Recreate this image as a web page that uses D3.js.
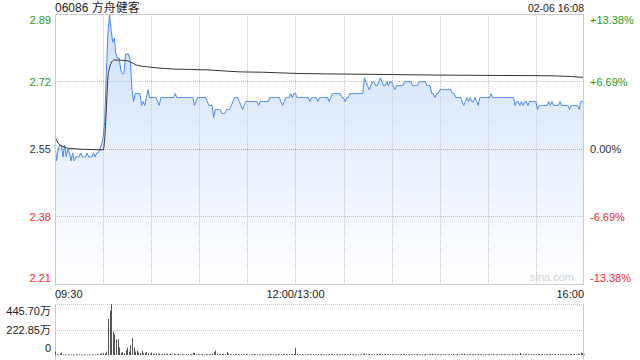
<!DOCTYPE html>
<html><head><meta charset="utf-8">
<script src="https://cdn.jsdelivr.net/npm/d3@7/dist/d3.min.js"></script>
<style>
html,body{margin:0;padding:0;background:#fff;}
text{font-family:"Liberation Sans",Arial,"Noto Sans CJK SC",sans-serif;}
</style></head>
<body>
<svg id="c" width="640" height="360"></svg>
<script>
const title = "06086 方舟健客";
const stamp = "02-06 16:08";
const prevClose = 2.55;
const pctLevels = [0.1338, 0.0669, 0, -0.0669, -0.1338];
const priceLabels = ["2.89", "2.72", "2.55", "2.38", "2.21"];
const pctLabels = ["+13.38%", "+6.69%", "0.00%", "-6.69%", "-13.38%"];
const timeLabels = ["09:30", "12:00/13:00", "16:00"];
const timeLabelMinutes = [0, 150, 330];
const gridMinutes = [30, 60, 90, 120, 150, 180, 210, 240, 270, 300];
const volMax = 445.70;
const volLabels = ["445.70万", "222.85万", "0"];

// minute-by-minute price, 09:30 .. 16:00 (331 points)
const price = [
2.56,2.52,2.55,2.56,2.56,2.53,2.56,2.53,2.55,2.54,
2.52,2.54,2.52,2.53,2.53,2.53,2.54,2.53,2.53,2.53,
2.54,2.53,2.53,2.53,2.54,2.53,2.54,2.54,2.55,2.56,
2.58,2.62,2.74,2.84,2.89,2.85,2.82,2.83,2.79,2.78,
2.78,2.75,2.74,2.74,2.79,2.79,2.79,2.77,2.70,2.67,
2.69,2.69,2.69,2.69,2.66,2.67,2.66,2.68,2.70,2.68,
2.68,2.68,2.68,2.68,2.67,2.66,2.68,2.68,2.68,2.68,
2.68,2.68,2.68,2.68,2.68,2.69,2.68,2.68,2.68,2.68,
2.68,2.68,2.68,2.68,2.68,2.68,2.68,2.66,2.67,2.68,
2.68,2.68,2.68,2.68,2.68,2.67,2.66,2.66,2.66,2.63,
2.65,2.65,2.65,2.65,2.64,2.64,2.64,2.65,2.65,2.65,
2.66,2.67,2.68,2.68,2.68,2.67,2.66,2.65,2.66,2.67,
2.67,2.67,2.67,2.67,2.67,2.67,2.67,2.66,2.67,2.67,
2.67,2.67,2.67,2.67,2.68,2.68,2.68,2.68,2.68,2.68,
2.68,2.67,2.66,2.67,2.68,2.68,2.68,2.69,2.68,2.69,
2.69,2.68,2.68,2.68,2.68,2.68,2.68,2.68,2.68,2.67,
2.68,2.68,2.68,2.68,2.67,2.68,2.68,2.68,2.68,2.68,
2.68,2.67,2.68,2.69,2.69,2.69,2.69,2.69,2.69,2.68,
2.68,2.67,2.68,2.68,2.69,2.69,2.69,2.69,2.69,2.69,
2.69,2.69,2.69,2.73,2.72,2.71,2.70,2.71,2.72,2.72,
2.71,2.71,2.72,2.73,2.72,2.71,2.71,2.72,2.71,2.72,
2.72,2.71,2.70,2.71,2.71,2.71,2.71,2.71,2.72,2.72,
2.72,2.72,2.72,2.71,2.71,2.71,2.71,2.72,2.72,2.72,
2.72,2.72,2.71,2.71,2.71,2.69,2.69,2.68,2.69,2.69,
2.70,2.70,2.70,2.70,2.70,2.70,2.70,2.70,2.69,2.69,
2.68,2.68,2.68,2.68,2.67,2.66,2.67,2.68,2.67,2.68,
2.67,2.67,2.68,2.67,2.66,2.68,2.68,2.68,2.68,2.68,
2.68,2.68,2.69,2.68,2.68,2.68,2.68,2.68,2.68,2.68,
2.68,2.68,2.68,2.68,2.68,2.68,2.68,2.66,2.67,2.67,
2.66,2.67,2.66,2.67,2.67,2.66,2.67,2.67,2.67,2.67,
2.67,2.65,2.66,2.66,2.66,2.66,2.66,2.66,2.67,2.66,
2.67,2.66,2.66,2.66,2.66,2.67,2.66,2.66,2.66,2.66,
2.66,2.65,2.66,2.66,2.66,2.66,2.66,2.65,2.67,2.67,
2.67];

// average price line, read at selected minutes
const avgMinute = [0,2,5,10,20,30,31,32,33,34,35,37,45,48,51,59,74,95,115,130,150,190,234,269,310,330];
const avgPrice  = [2.580,2.565,2.556,2.551,2.549,2.548,2.575,2.650,2.730,2.755,2.767,2.775,2.773,2.768,2.762,2.757,2.752,2.750,2.745,2.744,2.741,2.739,2.737,2.736,2.735,2.731];

// minute volume (万)
const volume = [
30,6,5,12,22,4,5,3,6,4,
5,3,4,6,3,5,4,3,5,4,
3,5,4,6,5,4,8,6,10,15,
18,14,30,315,386,445.7,200,180,137,137,
66,20,25,18,43,66,30,86,148,66,
30,40,22,18,35,15,20,25,15,12,
22,10,8,14,9,12,7,6,10,8,
12,6,9,5,11,7,6,8,5,7,
6,5,7,9,6,8,21,18,8,6,
5,7,6,4,8,6,9,7,10,25,
40,12,8,9,7,10,8,25,12,6,
7,5,9,6,8,5,7,6,5,8,
6,4,7,5,6,8,5,6,4,7,
5,6,4,7,5,8,6,4,5,6,
7,5,10,6,8,5,7,9,6,8,
61,10,6,5,7,4,6,5,8,6,
5,7,6,4,12,6,5,7,4,6,
5,8,6,9,5,7,4,6,5,8,
6,9,5,7,12,6,5,4,7,5,
6,5,8,14,10,7,9,6,8,5,
7,6,8,12,9,6,7,5,8,6,
5,7,6,4,6,5,8,6,9,5,
6,4,7,5,8,6,5,7,4,6,
5,8,6,7,9,10,6,8,5,7,
6,5,7,4,6,5,8,6,7,5,
6,8,5,7,9,10,6,8,7,9,
6,7,8,6,9,7,5,6,4,7,
5,6,8,5,7,4,6,5,7,6,
5,7,6,4,6,8,5,9,7,6,
18,7,8,6,9,7,6,8,5,7,
6,10,7,5,8,6,7,5,8,6,
7,8,6,5,7,9,6,5,7,6,
5,9,6,7,8,6,10,9,20,18,
6];

const svg = d3.select("#c");
const L = 55, R = 584, T = 14, B = 284;
const VT = 304, VB = 355;

const x = d3.scaleLinear().domain([0, 330]).range([L, R]);
const y = d3.scaleLinear().domain([prevClose * (1 - 0.1338), prevClose * (1 + 0.1338)]).range([B, T]);
const yv = d3.scaleLinear().domain([0, volMax]).range([VB, VT]);

const defs = svg.append("defs");
const grad = defs.append("linearGradient").attr("id", "g").attr("gradientUnits", "userSpaceOnUse")
  .attr("x1", 0).attr("x2", 0).attr("y1", T).attr("y2", B);
grad.append("stop").attr("offset", "0%").attr("stop-color", "#cfe0fa");
grad.append("stop").attr("offset", "100%").attr("stop-color", "#ffffff");

// area + line
const pts = price.map((p, i) => [i, p]);
svg.append("path").datum(pts)
  .attr("d", d3.area().x(d => x(d[0])).y0(B).y1(d => y(d[1])))
  .attr("fill", "url(#g)");

// grid
const gridColor = "#c4c4c4";
svg.append("g").selectAll("line").data(gridMinutes).join("line")
  .attr("x1", d => Math.round(x(d)) + 0.5).attr("x2", d => Math.round(x(d)) + 0.5)
  .attr("y1", T).attr("y2", B)
  .attr("stroke", gridColor).attr("stroke-dasharray", "1,1");
svg.append("g").selectAll("line").data(pctLevels.slice(1, 4)).join("line")
  .attr("x1", L).attr("x2", R)
  .attr("y1", d => Math.round(y(prevClose * (1 + d))) + 0.5)
  .attr("y2", d => Math.round(y(prevClose * (1 + d))) + 0.5)
  .attr("stroke", d => d === 0 ? "#aaa" : gridColor).attr("stroke-dasharray", "1,1");

svg.append("path").datum(pts)
  .attr("d", d3.line().x(d => x(d[0])).y(d => y(d[1])))
  .attr("fill", "none").attr("stroke", "#4a88ee").attr("stroke-width", 1);

svg.append("path").datum(avgMinute.map((m, i) => [m, avgPrice[i]]))
  .attr("d", d3.line().x(d => x(d[0])).y(d => y(d[1])).curve(d3.curveMonotoneX))
  .attr("fill", "none").attr("stroke", "#333").attr("stroke-width", 1);

// frame
svg.append("rect").attr("x", L + 0.5).attr("y", T + 0.5).attr("width", R - L - 1).attr("height", B - T)
  .attr("fill", "none").attr("stroke", "#cccccc");

// watermark
svg.append("text").attr("x", 574).attr("y", 281).attr("text-anchor", "end")
  .attr("font-size", 11).attr("fill", "#cfcfcf").text("sina.com");

// price labels
const colorOf = i => i < 2 ? "#1f9a1f" : (i === 2 ? "#333" : "#ee2a2a");
const labelY = (d, i) => {
  let yy = y(prevClose * (1 + d));
  if (i === 0) yy += 6; if (i === 4) yy -= 6;
  return yy + 4;
};
svg.append("g").selectAll("text").data(pctLevels).join("text")
  .attr("x", 51).attr("y", labelY).attr("text-anchor", "end")
  .attr("font-size", 11).attr("fill", (d, i) => colorOf(i)).text((d, i) => priceLabels[i]);
svg.append("g").selectAll("text").data(pctLevels).join("text")
  .attr("x", 590).attr("y", labelY).attr("text-anchor", "start")
  .attr("font-size", 11).attr("fill", (d, i) => colorOf(i)).text((d, i) => pctLabels[i]);

// time labels
svg.append("g").selectAll("text").data(timeLabelMinutes).join("text")
  .attr("x", d => x(d)).attr("y", 297.5)
  .attr("text-anchor", (d, i) => i === 0 ? "start" : (i === 1 ? "middle" : "end"))
  .attr("font-size", 11).attr("fill", "#222").text((d, i) => timeLabels[i]);

// title
svg.append("text").attr("x", 55).attr("y", 12).attr("font-size", 12).attr("fill", "#222").text(title);
svg.append("text").attr("x", 584).attr("y", 11.5).attr("text-anchor", "end").attr("font-size", 10.5).attr("fill", "#222").text(stamp);

// volume panel
[volMax, volMax / 2].forEach(v => {
  svg.append("line").attr("x1", L).attr("x2", R)
    .attr("y1", Math.round(yv(v)) + 0.5).attr("y2", Math.round(yv(v)) + 0.5)
    .attr("stroke", gridColor).attr("stroke-dasharray", "1,1");
});
svg.append("line").attr("x1", L + 0.5).attr("x2", L + 0.5).attr("y1", VT).attr("y2", 360).attr("stroke", "#ccc");
svg.append("line").attr("x1", R - 0.5).attr("x2", R - 0.5).attr("y1", VT).attr("y2", 360).attr("stroke", "#ccc");

svg.append("g").selectAll("rect").data(volume).join("rect")
  .attr("x", (d, i) => Math.round(x(i)))
  .attr("y", d => yv(d)).attr("width", 1)
  .attr("height", d => Math.max(0.8, VB - yv(d)))
  .attr("fill", "#555");

const volLabelY = [yv(volMax) + 7, yv(volMax / 2), yv(0) - 7];
svg.append("g").selectAll("text").data(volLabels).join("text")
  .attr("x", 51).attr("y", (d, i) => volLabelY[i] + 4).attr("text-anchor", "end")
  .attr("font-size", 11).attr("fill", "#222").text(d => d);
</script>
</body></html>
